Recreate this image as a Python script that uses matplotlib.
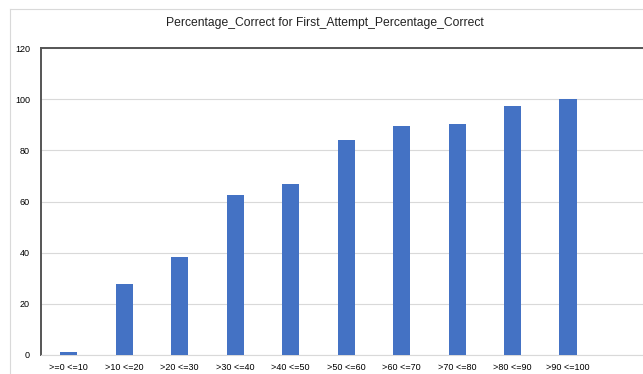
import matplotlib.pyplot as plt
from matplotlib.lines import Line2D

plt.rcParams['font.family'] = ['Liberation Sans', 'DejaVu Sans']

# bins and first attempt percentage correct
categories = [">=0 <=10", ">10 <=20", ">20 <=30", ">30 <=40", ">40 <=50",
              ">50 <=60", ">60 <=70", ">70 <=80", ">80 <=90", ">90 <=100"]
values = [1.1, 27.7, 38.3, 62.4, 67.0, 84.2, 89.6, 90.4, 97.3, 99.9]
yticks = [0, 20, 40, 60, 80, 100, 120]

W, H = 643, 374
fig = plt.figure(figsize=(W / 100, H / 100), dpi=100)
ax = fig.add_axes([41 / W, 19 / H, (W - 41) / W, (355 - 48) / H])

xs = list(range(len(categories)))
ax.bar(xs, values, width=0.31, color="#4472c4", zorder=3)

ax.set_xlim(-0.5, 10.35)
ax.set_ylim(0, 120)
ax.set_yticks(yticks)
ax.set_xticks(xs)
ax.set_xticklabels(categories, fontsize=6.5)
ax.tick_params(axis="y", labelsize=6.5, length=0, pad=8)
ax.tick_params(axis="x", length=0, pad=6)
ax.grid(axis="y", color="#d9d9d9", linewidth=0.8, zorder=0)

ax.spines["right"].set_visible(False)
ax.spines["top"].set_color("#555555")
ax.spines["top"].set_linewidth(1.4)
ax.spines["left"].set_color("#555555")
ax.spines["left"].set_linewidth(1.4)
ax.spines["bottom"].set_color("#d9d9d9")
ax.spines["bottom"].set_linewidth(0.8)

fig.text(325 / W, 1 - 23 / H, "Percentage_Correct for First_Attempt_Percentage_Correct",
         ha="center", va="center", fontsize=8.7, color="#222222")

# outer chart frame
fig.add_artist(Line2D([10 / W, 10 / W], [0, 1 - 9 / H], color="#d9d9d9", linewidth=0.8))
fig.add_artist(Line2D([10 / W, 1], [1 - 9 / H, 1 - 9 / H], color="#d9d9d9", linewidth=0.8))

fig.savefig("out.png", dpi=100)
